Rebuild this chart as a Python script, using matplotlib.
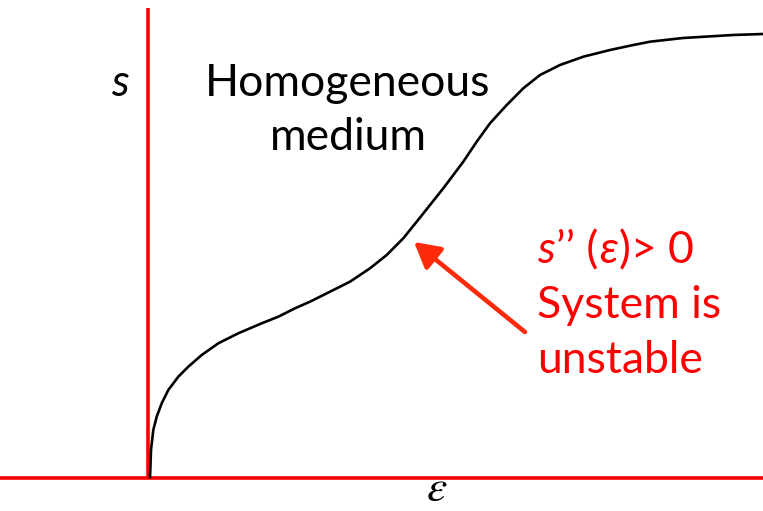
import numpy as np
import matplotlib
matplotlib.use('Agg')
import matplotlib.pyplot as plt

# curve, pixel-like units (x right, y down)
eps_pts = [150, 150.5, 151, 153.3, 156.7, 161.7, 168.3, 178.3, 188.3, 201.7,
           218.3, 238.3, 261.7, 278.3, 295, 310, 330, 350, 370, 386.7,
           403.3, 416.7, 430, 443.3, 463.3, 476.7, 490, 506.7, 523.3, 540,
           560, 583.3, 610, 633.3, 650, 683, 733, 763]
s_pts = [477, 465, 450, 430, 416.7, 403.3, 390, 376.7, 366.7, 355,
         343.3, 333.3, 323.3, 316.7, 308.3, 301.7, 291.7, 281.7, 268.3, 255,
         238.3, 221.7, 205, 188.3, 161.7, 141.7, 123.3, 105, 88.3, 75,
         65, 56.7, 50, 45, 41.7, 38, 35, 34]

# pieces of the condition label: (text, italic)
cond_parts = [('s', True), ('’’ (', False), ('ε', True), (')> 0', False)]

W, H = 763, 511
fig = plt.figure(figsize=(W/100, H/100), dpi=100)
ax = fig.add_axes([0, 0, 1, 1])
ax.set_xlim(0, W)
ax.set_ylim(H, 0)
ax.axis('off')

red = '#ff0000'
fam = ['Lato', 'DejaVu Sans']
ax.plot([148, 148], [8, 478], color=red, lw=2.6, solid_capstyle='butt')
ax.plot([0, W], [478, 478], color=red, lw=2.6, solid_capstyle='butt')

ax.plot(eps_pts, s_pts, color='black', lw=1.9, solid_joinstyle='round')

fs = 32
ax.text(120, 96, 's', fontsize=fs, style='italic', family=fam,
        ha='center', va='baseline')
ax.text(348, 96, 'Homogeneous', fontsize=fs, family=fam,
        ha='center', va='baseline')
ax.text(348, 150, 'medium', fontsize=fs, family=fam,
        ha='center', va='baseline')

# condition line built piece by piece so the italics fall where they should
renderer = fig.canvas.get_renderer()
x = 537
for txt, it in cond_parts:
    t = ax.text(x, 263, txt, fontsize=fs, family=fam, color=red,
                style='italic' if it else 'normal', ha='left', va='baseline')
    bb = t.get_window_extent(renderer)
    x = ax.transData.inverted().transform((bb.x1, bb.y0))[0] + 1
ax.text(537, 318, 'System is', fontsize=fs, family=fam, color=red,
        ha='left', va='baseline')
ax.text(537, 373, 'unstable', fontsize=fs, family=fam, color=red,
        ha='left', va='baseline')

ax.text(437, 501, r'$\varepsilon$', fontsize=33, math_fontfamily='stix',
        ha='center', va='baseline')

ax.annotate('', xy=(414, 242), xytext=(525, 332),
            arrowprops=dict(arrowstyle='-|>,head_length=0.9,head_width=0.5',
                            lw=3.3, color='#ff2a0a', mutation_scale=17,
                            shrinkA=0, shrinkB=0))

fig.savefig('out.png', dpi=100)
